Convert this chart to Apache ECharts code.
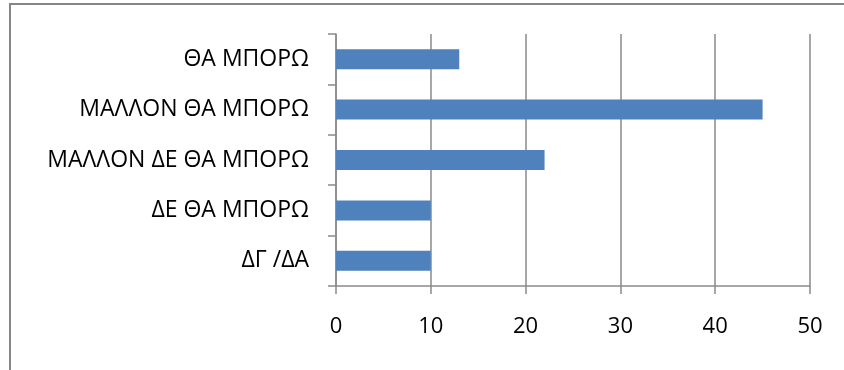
<!DOCTYPE html>
<html>
<head>
<meta charset="utf-8">
<script src="https://cdn.jsdelivr.net/npm/echarts@6/dist/echarts.min.js"></script>
<style>
  html, body { margin: 0; padding: 0; background: #fff; }
  #chart { width: 844px; height: 370px; }
</style>
</head>
<body>
<div id="chart"></div>
<script>
// Survey answers, top to bottom
const categories = ['ΘΑ ΜΠΟΡΩ', 'ΜΑΛΛΟΝ ΘΑ ΜΠΟΡΩ', 'ΜΑΛΛΟΝ ΔΕ ΘΑ ΜΠΟΡΩ', 'ΔΕ ΘΑ ΜΠΟΡΩ', 'ΔΓ /ΔΑ'];
const values = [13, 45, 22, 10, 10];
const axisMin = 0;
const axisMax = 50;
const axisStep = 10;

const gridColor = '#8a8a8a';
const font = '"Open Sans", "Noto Sans", sans-serif';

const chart = echarts.init(document.getElementById('chart'), null, { renderer: 'canvas' });
chart.setOption({
  animation: false,
  backgroundColor: '#ffffff',
  graphic: [{
    type: 'rect',
    shape: { x: 10, y: 4, width: 840, height: 372 },
    style: { fill: 'none', stroke: '#868686', lineWidth: 2 },
    silent: true
  }],
  grid: { left: 336, right: 34, top: 34, bottom: 84, containLabel: false },
  xAxis: {
    type: 'value',
    min: axisMin,
    max: axisMax,
    interval: axisStep,
    axisLine: { show: true, lineStyle: { color: gridColor, width: 1.5 } },
    axisTick: { show: true, length: 8, lineStyle: { color: gridColor, width: 1.5 } },
    splitLine: { show: true, lineStyle: { color: gridColor, width: 1.5 } },
    axisLabel: { color: '#000', fontSize: 22, fontFamily: font, margin: 30 }
  },
  yAxis: {
    type: 'category',
    data: categories,
    inverse: true,
    axisLine: { show: true, lineStyle: { color: gridColor, width: 1.5 } },
    axisTick: { show: true, length: 8, alignWithLabel: false, lineStyle: { color: gridColor, width: 1.5 } },
    axisLabel: { color: '#000', fontSize: 23, fontFamily: font, margin: 27 },
    splitLine: { show: false }
  },
  series: [{
    type: 'bar',
    data: values,
    barWidth: 20,
    itemStyle: { color: '#4f81bd' }
  }]
});
</script>
</body>
</html>
